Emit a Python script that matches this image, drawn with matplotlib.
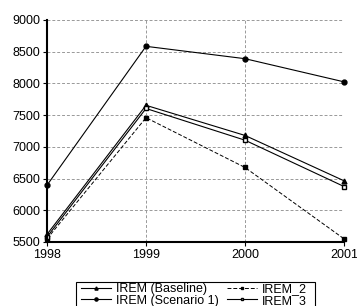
import matplotlib.pyplot as plt
import matplotlib as mpl
from matplotlib.patches import Rectangle

mpl.rcParams['font.family'] = ['Liberation Sans', 'DejaVu Sans']
mpl.rcParams['font.size'] = 9

years = [1998, 1999, 2000, 2001]
baseline = [5620, 7655, 7180, 6465]
scenario1 = [6395, 8585, 8390, 8025]
irem2 = [5550, 7460, 6675, 5550]
irem3 = [5580, 7605, 7105, 6375]
yticks = [5500, 6000, 6500, 7000, 7500, 8000, 8500, 9000]

W, H = 357., 306.
fig = plt.figure(figsize=(3.57, 3.06), dpi=100)
ax = fig.add_axes([47/W, 1-242/H, 297/W, 222/H])

ax.plot(years, baseline, '-^', color='k', lw=0.8, ms=3.5, clip_on=False, label='IREM (Baseline)')
ax.plot(years, scenario1, '-o', color='k', lw=0.8, ms=3.5, clip_on=False, label='IREM (Scenario 1)')
ax.plot(years, irem2, '--s', color='k', lw=0.7, ms=3.3, dashes=(4, 2), clip_on=False, label='IREM_2')
ax.plot(years, irem3, '-s', color='k', lw=0.8, ms=3.3, mfc='white', clip_on=False, label='IREM_3')

ax.set_xlim(1998, 2001)
ax.set_ylim(5500, 9000)
ax.set_xticks(years)
ax.set_yticks(yticks)
ax.grid(True, color='#999999', ls=(0, (3, 2)), lw=0.7)
ax.set_axisbelow(True)
for s in ['top', 'right']:
    ax.spines[s].set_visible(False)
ax.spines['left'].set_linewidth(1.5)
ax.spines['bottom'].set_linewidth(1.5)
ax.tick_params(axis='x', length=3, width=0.8, pad=2)
ax.tick_params(axis='y', length=3, width=0.8, pad=2)

# legend without its own frame, box drawn separately (bottom runs off the figure)
leg = ax.legend(loc='upper center', bbox_to_anchor=(0.495, -0.158), ncol=2,
                frameon=False, handlelength=2.4, borderpad=0.0,
                labelspacing=-0.05, columnspacing=0.65, handletextpad=0.4,
                markerscale=0.65, fontsize=9)
fig.add_artist(Rectangle((76/W, -0.05), (315-76)/W, 1-282/H+0.05,
                         transform=fig.transFigure, fill=False,
                         edgecolor='k', lw=0.8))

plt.savefig('out.png', dpi=100, facecolor='w')
